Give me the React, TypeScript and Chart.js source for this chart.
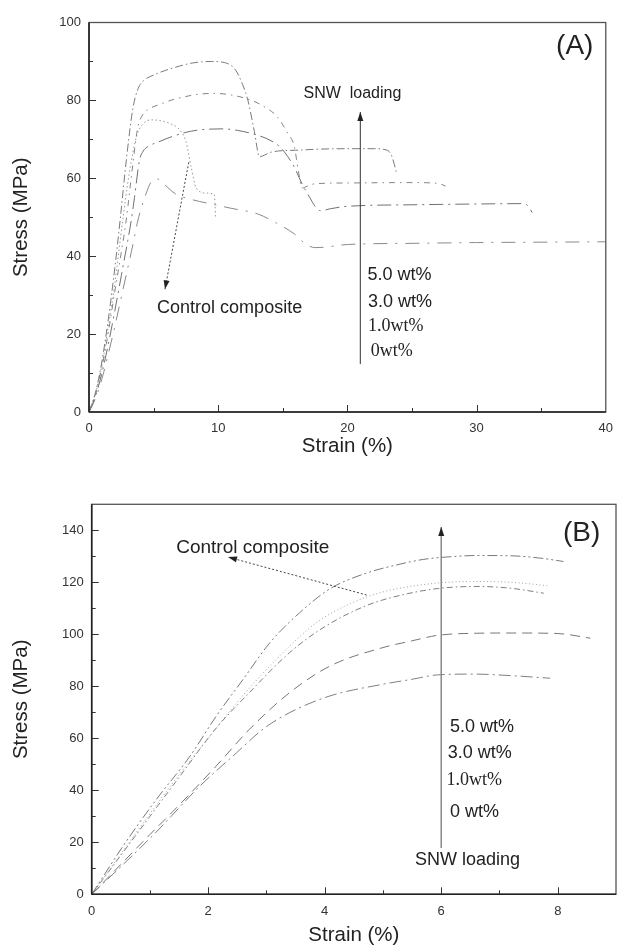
import React, { useEffect, useRef } from "react";
import { Chart, registerables } from "chart.js";

Chart.register(...registerables);

// ---------------- Panel A data ----------------
const A_X_TICKS = [0, 10, 20, 30, 40];
const A_Y_TICKS = [0, 20, 40, 60, 80, 100];
const A_X_MINOR = [5, 15, 25, 35];
const A_Y_MINOR = [10, 30, 50, 70, 90];

const A_5_X = [0, 0.5, 1, 1.5, 2, 2.4, 2.9, 3.4, 3.8, 4.2, 5, 6, 7, 8, 9.5, 10.5, 11.3, 11.9, 12.3, 12.8, 13.2, 13.6, 14.2, 16, 18, 20, 22, 23, 23.4, 23.8];
const A_5_Y = [0, 5, 13, 24, 37, 49, 65, 78, 83, 85, 86.5, 87.8, 88.8, 89.6, 90, 89.7, 88, 84, 80, 72, 65.5, 66, 66.8, 67.2, 67.5, 67.6, 67.6, 67.3, 66, 61.5];

const A_3_X = [0, 0.5, 1, 1.5, 2, 2.5, 2.87, 3.3, 3.77, 4.1, 4.5, 5.5, 6.5, 7.5, 8.5, 9.8, 11, 12.6, 13.5, 14.6, 15.3, 15.9, 16.2, 16.5, 16.9, 17.5, 20, 25, 27, 27.6];
const A_3_Y = [0, 4.5, 11.5, 20.5, 31, 41, 49, 61, 73, 76, 77.5, 79, 80.2, 81, 81.6, 81.8, 81.4, 80, 78.5, 75.7, 72, 68, 62, 57.5, 58, 58.6, 58.8, 58.9, 58.7, 58];

const A_1_X = [0, 0.5, 1, 1.5, 2, 2.5, 3, 3.26, 3.52, 3.9, 4.2, 4.5, 5.5, 6.5, 7.5, 8.5, 10.3, 11.5, 13.1, 14, 14.8, 15.4, 15.9, 16.5, 17.1, 17.5, 17.9, 18.7, 20, 25, 30, 33.7, 34, 34.3];
const A_1_Y = [0, 4, 10, 17.5, 26, 35, 44, 49, 55, 64.5, 67, 68, 69.5, 70.8, 71.8, 72.4, 72.7, 72.3, 71, 69.8, 68, 65.5, 62.8, 58.5, 55, 52.8, 51.7, 52.2, 52.8, 53.2, 53.4, 53.5, 52.8, 51.2];

const A_0_X = [0, 0.5, 1, 1.5, 2, 2.5, 3, 3.4, 3.77, 4.41, 4.8, 5.3, 5.8, 6.7, 8, 9.5, 11, 13.1, 14.5, 15.9, 16.7, 17.5, 18.2, 20, 25, 30, 35, 40];
const A_0_Y = [0, 3.5, 8.5, 15, 22, 29.5, 37, 43, 49, 56, 59, 59.8, 58.5, 56, 54.5, 53.4, 52.3, 50.8, 48.5, 45.7, 43.3, 42.2, 42.3, 43, 43.3, 43.5, 43.6, 43.7];

const A_C_X = [0, 0.5, 1, 1.5, 2, 2.6, 3.1, 3.7, 4.2, 4.8, 5.5, 6.3, 7, 7.5, 7.9, 8.3, 9.1, 9.7, 9.8];
const A_C_Y = [0, 4.8, 12, 22, 33, 49, 61, 71, 74, 75, 74.8, 74, 72.5, 69.5, 63, 57.5, 56.2, 55.8, 50];

// ---------------- Panel B data ----------------
const B_X_TICKS = [0, 2, 4, 6, 8];
const B_Y_TICKS = [0, 20, 40, 60, 80, 100, 120, 140];
const B_X_MINOR = [1, 3, 5, 7];
const B_Y_MINOR = [10, 30, 50, 70, 90, 110, 130];

const B_5_X = [0, 0.54, 1.11, 1.69, 2.14, 2.6, 3.06, 3.57, 4.09, 4.71, 5.2, 5.69, 6.2, 6.6, 7.2, 7.7, 8.1];
const B_5_Y = [0, 18.6, 36.5, 53.2, 68.6, 82.7, 96.8, 108.3, 117.5, 123.5, 126.5, 128.8, 129.9, 130.3, 130.2, 129.3, 128];

const B_C_X = [0, 0.5, 1, 1.5, 2, 2.49, 3.17, 3.86, 4.44, 5, 5.5, 6.03, 6.6, 7.2, 7.82];
const B_C_Y = [0, 15.5, 31, 46, 60, 73.7, 90.4, 104.5, 111.8, 116.3, 118.5, 119.9, 120.3, 120, 118.7];

const B_3_X = [0, 0.5, 1, 1.5, 2.14, 2.66, 3.4, 3.97, 4.71, 5.3, 5.94, 6.6, 7.2, 7.76];
const B_3_Y = [0, 15, 30, 45, 64, 76.5, 93, 102.5, 111, 115, 117.6, 118.4, 117.7, 115.8];

const B_1_X = [0, 0.5, 1, 1.4, 2.14, 2.71, 3.4, 4.09, 5, 5.5, 5.94, 6.6, 7.2, 8, 8.56];
const B_1_Y = [0, 11.5, 23, 32, 49.4, 63.5, 77.6, 87.8, 94.9, 97.5, 99.6, 100.4, 100.5, 100.3, 98.5];

const B_0_X = [0, 0.54, 1.11, 1.86, 2.49, 2.94, 3.4, 4.09, 5, 5.5, 5.94, 6.56, 7.2, 7.87];
const B_0_Y = [0, 11.5, 24, 41.7, 54.5, 63.5, 69.9, 76.3, 80.8, 82.7, 84.4, 84.7, 84.1, 83.1];

// ---------------- annotations (data coordinates) ----------------
const SANS = "'Liberation Sans', Arial, sans-serif";
const SERIF = "'Liberation Serif', 'Times New Roman', serif";

const A_TEXTS = [
  { x: 37.6, y: 94.0, text: "(A)", size: 28, align: "center", family: SANS },
  { x: 16.6, y: 81.8, text: "SNW  loading", size: 16, align: "left", family: SANS },
  { x: 21.55, y: 35.1, text: "5.0 wt%", size: 18, align: "left", family: SANS },
  { x: 21.6, y: 28.2, text: "3.0 wt%", size: 18, align: "left", family: SANS },
  { x: 21.6, y: 21.9, text: "1.0wt%", size: 18, align: "left", family: SERIF },
  { x: 21.8, y: 15.6, text: "0wt%", size: 18, align: "left", family: SERIF },
  { x: 5.27, y: 26.7, text: "Control composite", size: 18, align: "left", family: SANS },
];
const A_ARROWS = [
  { x1: 21, y1: 12.3, x2: 21, y2: 77, dash: [], color: "#333", width: 1 },
  { x1: 7.72, y1: 64.1, x2: 5.88, y2: 31.5, dash: [2, 2], color: "#444", width: 1 },
];

const B_TEXTS = [
  { x: 8.41, y: 139, text: "(B)", size: 28, align: "center", family: SANS },
  { x: 1.45, y: 133.2, text: "Control composite", size: 19, align: "left", family: SANS },
  { x: 6.15, y: 64.3, text: "5.0 wt%", size: 18, align: "left", family: SANS },
  { x: 6.11, y: 54.3, text: "3.0 wt%", size: 18, align: "left", family: SANS },
  { x: 6.09, y: 44, text: "1.0wt%", size: 18, align: "left", family: SERIF },
  { x: 6.15, y: 31.7, text: "0 wt%", size: 18, align: "left", family: SANS },
  { x: 5.55, y: 13.2, text: "SNW loading", size: 18, align: "left", family: SANS },
];
const B_ARROWS = [
  { x1: 6, y1: 17.8, x2: 6, y2: 141.3, dash: [], color: "#888", width: 1.5 },
  { x1: 4.72, y1: 115.1, x2: 2.34, y2: 129.7, dash: [2, 2], color: "#444", width: 1 },
];

const pts = (xs: number[], ys: number[]) => xs.map((x, i) => ({ x, y: ys[i] }));

function ds(data: any, color: string, dash: number[]) {
  return {
    data,
    borderColor: color,
    borderWidth: 1,
    borderDash: dash,
    pointRadius: 0,
    fill: false,
    cubicInterpolationMode: "monotone",
  };
}

function frameTicksPlugin(xMajor: number[], xMinor: number[], yMajor: number[], yMinor: number[]) {
  return {
    id: "frameTicks",
    afterDraw(chart: any) {
      const { ctx, chartArea: a } = chart;
      const x = chart.scales.x;
      const y = chart.scales.y;
      ctx.save();
      ctx.strokeStyle = "#333";
      ctx.lineWidth = 1;
      const seg = (x1: number, y1: number, x2: number, y2: number) => {
        ctx.beginPath();
        ctx.moveTo(x1, y1);
        ctx.lineTo(x2, y2);
        ctx.stroke();
      };
      const xt = (v: number, len: number) => {
        const px = Math.round(x.getPixelForValue(v)) + 0.5;
        seg(px, a.bottom, px, a.bottom - len);
      };
      const yt = (v: number, len: number) => {
        const py = Math.round(y.getPixelForValue(v)) + 0.5;
        seg(a.left, py, a.left + len, py);
      };
      xMajor.forEach((v) => xt(v, 7));
      xMinor.forEach((v) => xt(v, 4));
      yMajor.forEach((v) => yt(v, 7));
      yMinor.forEach((v) => yt(v, 4));
      ctx.strokeStyle = "#555";
      ctx.lineWidth = 1.3;
      ctx.strokeRect(a.left, a.top, a.right - a.left, a.bottom - a.top);
      ctx.strokeStyle = "#222";
      ctx.lineWidth = 1.6;
      seg(a.left, a.top, a.left, a.bottom);
      seg(a.left, a.bottom, a.right, a.bottom);
      ctx.restore();
    },
  };
}

function annotationPlugin(texts: any[], arrows: any[]) {
  return {
    id: "annot",
    afterDatasetsDraw(chart: any) {
      const { ctx } = chart;
      const x = chart.scales.x;
      const y = chart.scales.y;
      ctx.save();
      arrows.forEach((ar) => {
        const x1 = x.getPixelForValue(ar.x1);
        const y1 = y.getPixelForValue(ar.y1);
        const x2 = x.getPixelForValue(ar.x2);
        const y2 = y.getPixelForValue(ar.y2);
        ctx.strokeStyle = ar.color;
        ctx.lineWidth = ar.width;
        ctx.setLineDash(ar.dash);
        ctx.beginPath();
        ctx.moveTo(x1, y1);
        ctx.lineTo(x2, y2);
        ctx.stroke();
        ctx.setLineDash([]);
        const ang = Math.atan2(y2 - y1, x2 - x1);
        const L = 9;
        const W = 3;
        ctx.fillStyle = "#222";
        ctx.beginPath();
        ctx.moveTo(x2, y2);
        ctx.lineTo(x2 - L * Math.cos(ang) + W * Math.sin(ang), y2 - L * Math.sin(ang) - W * Math.cos(ang));
        ctx.lineTo(x2 - L * Math.cos(ang) - W * Math.sin(ang), y2 - L * Math.sin(ang) + W * Math.cos(ang));
        ctx.closePath();
        ctx.fill();
      });
      ctx.fillStyle = "#222";
      ctx.textBaseline = "middle";
      texts.forEach((t) => {
        ctx.font = `${t.size}px ${t.family}`;
        ctx.textAlign = t.align;
        ctx.fillText(t.text, x.getPixelForValue(t.x), y.getPixelForValue(t.y));
      });
      ctx.restore();
    },
  };
}

function makeConfig(p: any) {
  const tickFont = { family: SANS, size: 13 };
  const titleFont = { family: SANS, size: 20.5 };
  return {
    type: "line",
    data: { datasets: p.datasets },
    options: {
      animation: false,
      responsive: false,
      devicePixelRatio: 1,
      layout: { padding: { top: p.padTop, right: p.padRight, left: 0, bottom: 0 } },
      plugins: { legend: { display: false }, tooltip: { enabled: false } },
      scales: {
        x: {
          type: "linear",
          min: p.xMin,
          max: p.xMax,
          grid: { display: false, drawTicks: false },
          border: { display: false },
          afterBuildTicks: (s: any) => {
            s.ticks = p.xTicks.map((v: number) => ({ value: v }));
          },
          afterFit: (s: any) => {
            s.height = p.xAxisH;
          },
          ticks: { font: tickFont, color: "#333", padding: 9, maxRotation: 0, autoSkip: false, callback: (v: number) => String(v) },
          title: { display: true, text: "Strain (%)", font: titleFont, color: "#222", padding: { top: 0, bottom: p.xTitlePad } },
        },
        y: {
          type: "linear",
          min: p.yMin,
          max: p.yMax,
          grid: { display: false, drawTicks: false },
          border: { display: false },
          afterBuildTicks: (s: any) => {
            s.ticks = p.yTicks.map((v: number) => ({ value: v }));
          },
          afterFit: (s: any) => {
            s.width = p.yAxisW;
          },
          ticks: { font: tickFont, color: "#333", padding: 8, autoSkip: false, callback: (v: number) => String(v) },
          title: { display: true, text: "Stress (MPa)", font: titleFont, color: "#222", padding: { top: 9, bottom: 0 } },
        },
      },
    },
    plugins: [frameTicksPlugin(p.xMajor, p.xMinor, p.yMajor, p.yMinor), annotationPlugin(p.texts, p.arrows)],
  };
}

const panelA = () =>
  makeConfig({
    datasets: [
      ds(pts(A_5_X, A_5_Y), "#7a7a7a", [8, 3, 1.5, 3]),
      ds(pts(A_3_X, A_3_Y), "#858585", [6, 5, 1.5, 5]),
      ds(pts(A_1_X, A_1_Y), "#707070", [14, 5, 2, 5]),
      ds(pts(A_0_X, A_0_Y), "#8a8a8a", [14, 8, 2, 8]),
      ds(pts(A_C_X, A_C_Y), "#999999", [1.5, 2.5]),
    ],
    xMin: 0, xMax: 40, yMin: 0, yMax: 100,
    xTicks: A_X_TICKS, yTicks: A_Y_TICKS,
    xMajor: A_X_TICKS.slice(1, -1), xMinor: A_X_MINOR,
    yMajor: A_Y_TICKS.slice(1, -1), yMinor: A_Y_MINOR,
    padTop: 22.5, padRight: 10, xAxisH: 58, yAxisW: 89, xTitlePad: 11,
    texts: A_TEXTS, arrows: A_ARROWS,
  });

const panelB = () =>
  makeConfig({
    datasets: [
      ds(pts(B_5_X, B_5_Y), "#7a7a7a", [10, 3, 2, 3, 2, 3]),
      ds(pts(B_C_X, B_C_Y), "#a0a0a0", [1, 2.5]),
      ds(pts(B_3_X, B_3_Y), "#7f7f7f", [6, 3, 1.5, 3]),
      ds(pts(B_1_X, B_1_Y), "#777777", [10, 6]),
      ds(pts(B_0_X, B_0_Y), "#808080", [12, 4, 2, 4]),
    ],
    xMin: 0, xMax: 9, yMin: 0, yMax: 150,
    xTicks: B_X_TICKS, yTicks: B_Y_TICKS,
    xMajor: B_X_TICKS.slice(1), xMinor: B_X_MINOR,
    yMajor: B_Y_TICKS.slice(1), yMinor: B_Y_MINOR,
    padTop: 34.3, padRight: 6, xAxisH: 57.7, yAxisW: 91.7, xTitlePad: 4,
    texts: B_TEXTS, arrows: B_ARROWS,
  });

function Panel({ make, top, height }: { make: () => any; top: number; height: number }) {
  const ref = useRef<HTMLCanvasElement>(null);
  useEffect(() => {
    const chart = new Chart(ref.current as HTMLCanvasElement, make());
    return () => chart.destroy();
  }, []);
  return (
    <canvas
      ref={ref}
      width={622}
      height={height}
      style={{ position: "absolute", left: 0, top, width: 622, height, display: "block" }}
    />
  );
}

export default function App() {
  return (
    <div style={{ position: "absolute", left: 0, top: 0, width: 622, height: 952, background: "#fff", overflow: "hidden" }}>
      <Panel make={panelA} top={0} height={470} />
      <Panel make={panelB} top={470} height={482} />
    </div>
  );
}
